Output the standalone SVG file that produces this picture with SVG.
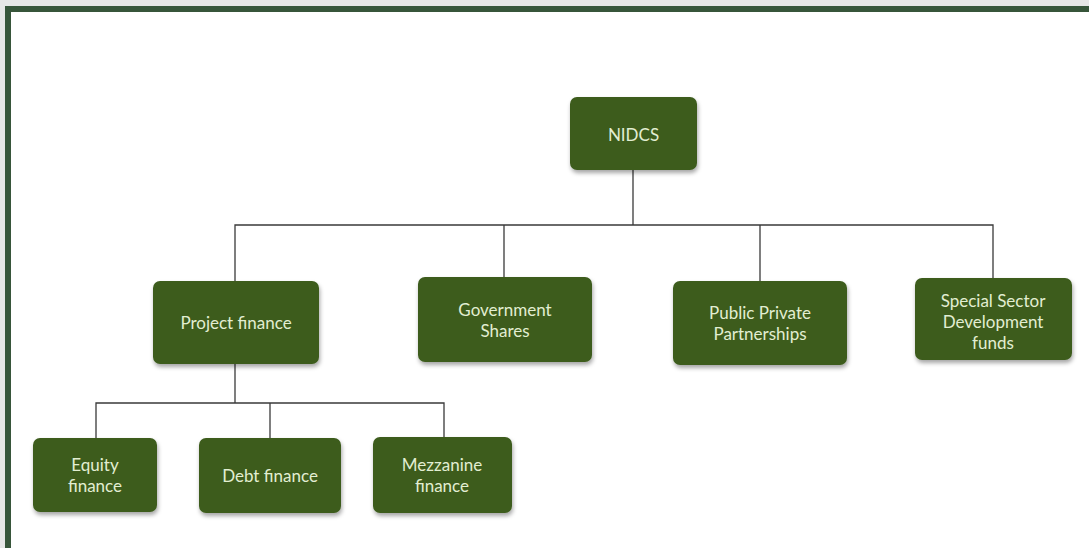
<svg xmlns="http://www.w3.org/2000/svg" width="1089" height="548" viewBox="0 0 1089 548">
  <style>
    .box { fill: #3d5c1f; filter: url(#shadow); }
    .lbl { fill: #e2eed2; font-family: Lato, "Liberation Sans", sans-serif; font-size: 17px; text-anchor: middle; dominant-baseline: central; }
    .wire { fill: none; stroke: #3a3a3a; stroke-width: 1.3; }
  </style>
  <defs>
    <filter id="shadow" x="-10%" y="-10%" width="125%" height="130%">
      <feDropShadow dx="1" dy="3" stdDeviation="2" flood-color="#000" flood-opacity="0.35"/>
    </filter>
  </defs>

  <!-- page background and frame -->
  <rect x="0" y="0" width="1089" height="548" fill="#e6e6e6"/>
  <rect x="5" y="6" width="1084" height="542" fill="#37553a"/>
  <rect x="11" y="12" width="1078" height="536" fill="#ffffff"/>

  <!-- connectors -->
  <g id="connectors">
    <path class="wire" d="M633 170 V225"/>
    <path class="wire" d="M235 281 V225 H993 V278"/>
    <path class="wire" d="M504 225 V277"/>
    <path class="wire" d="M760 225 V281"/>
    <path class="wire" d="M235 364 V403"/>
    <path class="wire" d="M96 438 V403 H444 V437"/>
    <path class="wire" d="M270 403 V438"/>
  </g>

  <g id="nidcs">
    <rect class="box" x="570" y="97" width="127" height="73" rx="7"/>
    <text class="lbl" x="633.5" y="134">NIDCS</text>
  </g>

  <g id="project-finance">
    <rect class="box" x="153" y="281" width="166" height="83" rx="7"/>
    <text class="lbl" x="236" y="322">Project finance</text>
  </g>

  <g id="government-shares">
    <rect class="box" x="418" y="277" width="174" height="85" rx="7"/>
    <text class="lbl" x="505" y="309">Government</text>
    <text class="lbl" x="505" y="330">Shares</text>
  </g>

  <g id="ppp">
    <rect class="box" x="673" y="281" width="174" height="84" rx="7"/>
    <text class="lbl" x="760" y="312">Public Private</text>
    <text class="lbl" x="760" y="333">Partnerships</text>
  </g>

  <g id="sector-funds">
    <rect class="box" x="915" y="278" width="157" height="82" rx="7"/>
    <text class="lbl" x="993" y="300">Special Sector</text>
    <text class="lbl" x="993" y="321">Development</text>
    <text class="lbl" x="993" y="342">funds</text>
  </g>

  <g id="equity-finance">
    <rect class="box" x="33" y="438" width="124" height="74" rx="7"/>
    <text class="lbl" x="95" y="464">Equity</text>
    <text class="lbl" x="95" y="485">finance</text>
  </g>

  <g id="debt-finance">
    <rect class="box" x="199" y="438" width="142" height="75" rx="7"/>
    <text class="lbl" x="270" y="475">Debt finance</text>
  </g>

  <g id="mezzanine-finance">
    <rect class="box" x="373" y="437" width="139" height="76" rx="7"/>
    <text class="lbl" x="442" y="464">Mezzanine</text>
    <text class="lbl" x="442" y="485">finance</text>
  </g>
</svg>
